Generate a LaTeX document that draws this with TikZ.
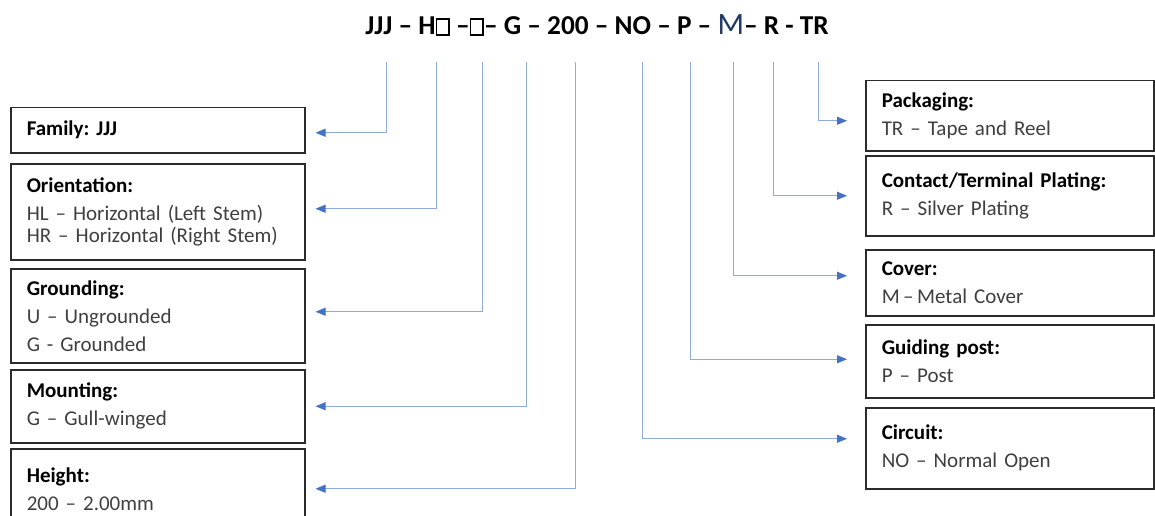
\documentclass[tikz,border=0pt]{standalone}
\usepackage{fontspec}
\setmainfont{Carlito}
\usetikzlibrary{arrows.meta}
\frenchspacing

\definecolor{boxgray}{HTML}{2B2B2B}
\definecolor{textgray}{HTML}{3F3F3F}
\definecolor{lineblue}{HTML}{8FAADC}
\definecolor{tipblue}{HTML}{4472C4}
\definecolor{navyM}{HTML}{1F3864}

\newcommand{\sqmark}{{\fboxsep=0pt\fboxrule=1.7pt\fbox{\rule{0pt}{14pt}\hspace{11pt}}}}
\newcommand{\hd}[1]{\textbf{\color{black}#1}}

\tikzset{
  partbox/.style={draw=boxgray, line width=1.5pt, anchor=north west, align=left,
    inner xsep=16pt, inner ysep=0pt, font=\fontsize{21}{28}\selectfont, text=textgray},
  leftbox/.style={partbox, text width=262pt},
  rightbox/.style={partbox, text width=256pt},
  conn/.style={draw=lineblue, line width=1pt, -{Triangle[length=10pt,width=8pt,color=tipblue]}},
}

\begin{document}
\begin{tikzpicture}[x=1pt,y=-1pt]

\useasboundingbox (0,0) rectangle (1155,516);

% part number
\node[font=\fontsize{27.3}{27.3}\selectfont\bfseries] (code) at (597,25)
  {JJJ -- H\sqmark\ --\sqmark-- G -- 200 -- NO -- P -- {\mdseries\fontsize{31}{31}\selectfont\color{navyM}M}-- R - TR};

% tops of the leader lines
\coordinate (tJJJ) at (386,62);
\coordinate (tH)   at (436,62);
\coordinate (tU)   at (482,62);
\coordinate (tG)   at (526,62);
\coordinate (t200) at (575,62);
\coordinate (tNO)  at (642,62);
\coordinate (tP)   at (690,62);
\coordinate (tM)   at (733,62);
\coordinate (tR)   at (773,62);
\coordinate (tTR)  at (818,62);

% left column
\node[leftbox, minimum height=45pt] (family) at (10,107) {\hd{Family: JJJ}};
\node[leftbox, minimum height=96pt] (orient) at (10,163)
  {\hd{Orientation:}\\HL -- Horizontal (Left Stem)\\[-6pt]HR -- Horizontal (Right Stem)};
\node[leftbox, minimum height=94pt] (ground) at (10,268)
  {\hd{Grounding:}\\U -- Ungrounded\\G - Grounded};
\node[leftbox, minimum height=73pt] (mount) at (10,369)
  {\hd{Mounting:}\\G -- Gull-winged};
\node[leftbox, minimum height=80pt] (height) at (10,448)
  {\hd{Height:}\\200 -- 2.00mm};

% right column
\node[rightbox, minimum height=70pt] (pack) at (865,80)
  {\hd{Packaging:}\\TR -- Tape and Reel};
\node[rightbox, minimum height=80pt] (plating) at (865,155)
  {\hd{Contact/Terminal Plating:}\\R -- Silver Plating};
\node[rightbox, minimum height=66pt] (cover) at (865,249)
  {\hd{Cover:}\\M\,--\,Metal Cover};
\node[rightbox, minimum height=73pt] (guide) at (865,324)
  {\hd{Guiding post:}\\P -- Post};
\node[rightbox, minimum height=81pt] (circuit) at (865,407)
  {\hd{Circuit:}\\NO -- Normal Open};

% leaders
\draw[conn, shorten >=10pt] (tJJJ) |- ([yshift=-2.5pt]family.east);
\draw[conn, shorten >=10pt] (tH)   |- ([yshift=3pt]orient.east);
\draw[conn, shorten >=10pt] (tU)   |- ([yshift=4pt]ground.east);
\draw[conn, shorten >=10pt] (tG)   |- (mount.east);
\draw[conn, shorten >=10pt] (t200) |- (height.east);

\draw[conn, shorten >=18pt] (tTR) |- ([yshift=-5pt]pack.west);
\draw[conn, shorten >=18pt] (tR)  |- (plating.west);
\draw[conn, shorten >=18pt] (tM)  |- ([yshift=7pt]cover.west);
\draw[conn, shorten >=18pt] (tP)  |- ([yshift=2pt]guide.west);
\draw[conn, shorten >=18pt] (tNO) |- ([yshift=9.5pt]circuit.west);

\end{tikzpicture}
\end{document}
